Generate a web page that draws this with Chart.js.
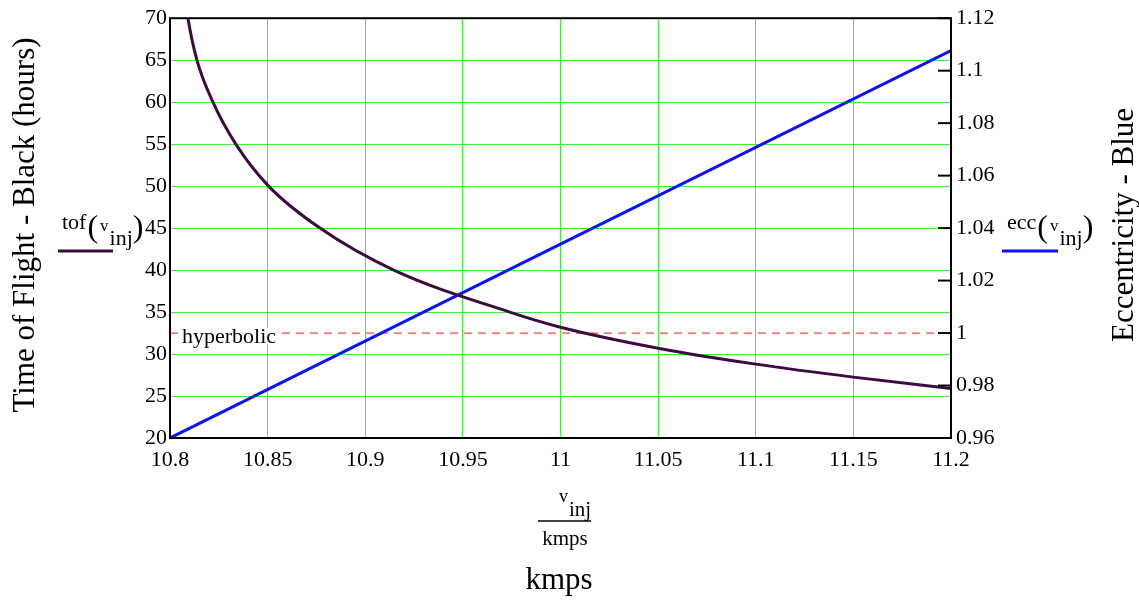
<!DOCTYPE html>
<html lang="en">
<head>
  <meta charset="UTF-8">
  <title>Time of Flight and Eccentricity</title>
  <script src="https://cdn.jsdelivr.net/npm/chart.js"></script>
  <style>
    body {
      margin: 0;
      background: #fff;
    }
    .wrap {
      width: 1139px;
      height: 603px;
    }
  </style>
</head>
<body>
<div class="wrap">
  <canvas id="tofChart"></canvas>
</div>

<script>
  // injection velocity (kmps) and time of flight (hours)
  const tofV = [10.8, 10.8092, 10.8138, 10.822, 10.8337, 10.8505, 10.8768, 10.9146, 10.974, 11.0, 11.05, 11.1, 11.15, 11.2];
  const tofHours = [86, 70, 65, 60, 55, 50, 45, 40, 35, 33.2, 30.7, 28.8, 27.25, 25.9];

  // eccentricity is a straight line
  const eccV = [10.8, 11.0, 11.2];
  const eccValues = [0.96, 1.0339, 1.1077];

  // hyperbolic limit
  const hypV = [10.8, 11.2];
  const hypEcc = [1, 1];

  const serif = 'Liberation Serif';
  const purple = '#3d0a42';
  const blue = '#0d12f5';
  const green = '#3cf03c';

  const toPoints = (xs, ys) => xs.map((x, i) => ({ x: x, y: ys[i] }));
  const fmt = v => String(Number(v.toFixed(2)));

  function text(ctx, str, x, y, size, align) {
    ctx.font = size + 'px "' + serif + '"';
    ctx.textAlign = align || 'left';
    ctx.textBaseline = 'alphabetic';
    ctx.fillText(str, x, y);
  }

  // name(v_inj) with a short line sample under it
  function legendItem(ctx, name, x, lineFrom, lineTo, color) {
    text(ctx, name, x, 229, 22);
    ctx.font = '22px "' + serif + '"';
    let px = x + ctx.measureText(name).width + 1;
    text(ctx, '(', px, 237, 32);
    ctx.font = '32px "' + serif + '"';
    px += ctx.measureText('(').width + 2;
    text(ctx, 'v', px, 231, 17);
    ctx.font = '17px "' + serif + '"';
    px += ctx.measureText('v').width + 1;
    text(ctx, 'inj', px, 245, 22);
    ctx.font = '22px "' + serif + '"';
    px += ctx.measureText('inj').width;
    text(ctx, ')', px, 237, 32);
    ctx.strokeStyle = color;
    ctx.lineWidth = 3;
    ctx.beginPath();
    ctx.moveTo(lineFrom, 251);
    ctx.lineTo(lineTo, 251);
    ctx.stroke();
  }

  const extras = {
    id: 'extras',
    afterDatasetsDraw(chart) {
      const ctx = chart.ctx;
      const area = chart.chartArea;
      const y1 = chart.scales.y1;
      const x = chart.scales.x;
      ctx.save();

      // hyperbolic label with white box over the dashed line
      const hy = y1.getPixelForValue(1);
      const hx = x.getPixelForValue(10.8) + 12;
      ctx.font = '22px "' + serif + '"';
      const w = ctx.measureText('hyperbolic').width;
      ctx.fillStyle = '#fff';
      ctx.fillRect(hx - 1, hy - 5, w + 2, 16);
      ctx.fillStyle = '#000';
      text(ctx, 'hyperbolic', hx, hy + 10, 22);

      // frame
      ctx.strokeStyle = '#000';
      ctx.lineWidth = 2;
      ctx.strokeRect(area.left, area.top, area.right - area.left, area.bottom - area.top);

      // right axis ticks pointing inward
      y1.ticks.forEach(t => {
        const py = y1.getPixelForValue(t.value);
        ctx.beginPath();
        ctx.moveTo(area.right - 13, py);
        ctx.lineTo(area.right, py);
        ctx.stroke();
      });
      ctx.restore();
    },
    afterDraw(chart) {
      const ctx = chart.ctx;
      ctx.save();
      ctx.fillStyle = '#000';

      // axis titles
      ctx.save();
      ctx.translate(34, 225);
      ctx.rotate(-Math.PI / 2);
      text(ctx, 'Time of Flight - Black (hours)', 0, 0, 31, 'center');
      ctx.restore();

      ctx.save();
      ctx.translate(1133, 225);
      ctx.rotate(-Math.PI / 2);
      text(ctx, 'Eccentricity - Blue', 0, 0, 31, 'center');
      ctx.restore();

      legendItem(ctx, 'tof', 62, 58, 113, purple);
      legendItem(ctx, 'ecc', 1007, 1002, 1058, blue);

      // x axis title: v_inj / kmps, then kmps
      text(ctx, 'v', 559, 502, 18);
      text(ctx, 'inj', 569, 516, 21);
      ctx.strokeStyle = '#000';
      ctx.lineWidth = 1.5;
      ctx.beginPath();
      ctx.moveTo(538, 521);
      ctx.lineTo(591, 521);
      ctx.stroke();
      text(ctx, 'kmps', 565, 545, 21, 'center');
      text(ctx, 'kmps', 559, 589, 31, 'center');

      ctx.restore();
    }
  };

  const ctx = document.getElementById('tofChart').getContext('2d');
  const tofChart = new Chart(ctx, {
    type: 'scatter',
    data: {
      datasets: [
        {
          label: 'tof',
          data: toPoints(tofV, tofHours),
          yAxisID: 'y',
          showLine: true,
          borderColor: purple,
          borderWidth: 3,
          pointRadius: 0,
          cubicInterpolationMode: 'monotone'
        },
        {
          label: 'ecc',
          data: toPoints(eccV, eccValues),
          yAxisID: 'y1',
          showLine: true,
          borderColor: blue,
          borderWidth: 3,
          pointRadius: 0
        },
        {
          label: 'hyperbolic',
          data: toPoints(hypV, hypEcc),
          yAxisID: 'y1',
          showLine: true,
          borderColor: '#f04848',
          borderWidth: 1.2,
          borderDash: [8, 6],
          pointRadius: 0
        }
      ]
    },
    options: {
      responsive: true,
      maintainAspectRatio: false,
      animation: false,
      layout: { padding: { top: 15, left: 0, right: 0, bottom: 0 } },
      plugins: {
        legend: { display: false },
        tooltip: { enabled: false }
      },
      scales: {
        x: {
          type: 'linear',
          min: 10.8,
          max: 11.2,
          afterFit: s => { s.height = 165; },
          ticks: {
            stepSize: 0.05,
            color: '#000',
            padding: 9,
            maxRotation: 0,
            font: { family: serif, size: 22 },
            callback: fmt
          },
          grid: { color: green, lineWidth: 1, drawTicks: false },
          border: { display: false }
        },
        y: {
          position: 'left',
          min: 20,
          max: 70,
          afterFit: s => { s.width = 170; },
          ticks: {
            stepSize: 5,
            color: '#000',
            padding: 3,
            font: { family: serif, size: 22 },
            callback: fmt
          },
          grid: { color: green, lineWidth: 1, drawTicks: false },
          border: { display: false }
        },
        y1: {
          position: 'right',
          min: 0.96,
          max: 1.12,
          afterFit: s => { s.width = 188; },
          ticks: {
            stepSize: 0.02,
            color: '#000',
            padding: 5,
            font: { family: serif, size: 22 },
            callback: fmt
          },
          grid: { drawOnChartArea: false, drawTicks: false },
          border: { display: false }
        }
      }
    },
    plugins: [extras]
  });
</script>
</body>
</html>
